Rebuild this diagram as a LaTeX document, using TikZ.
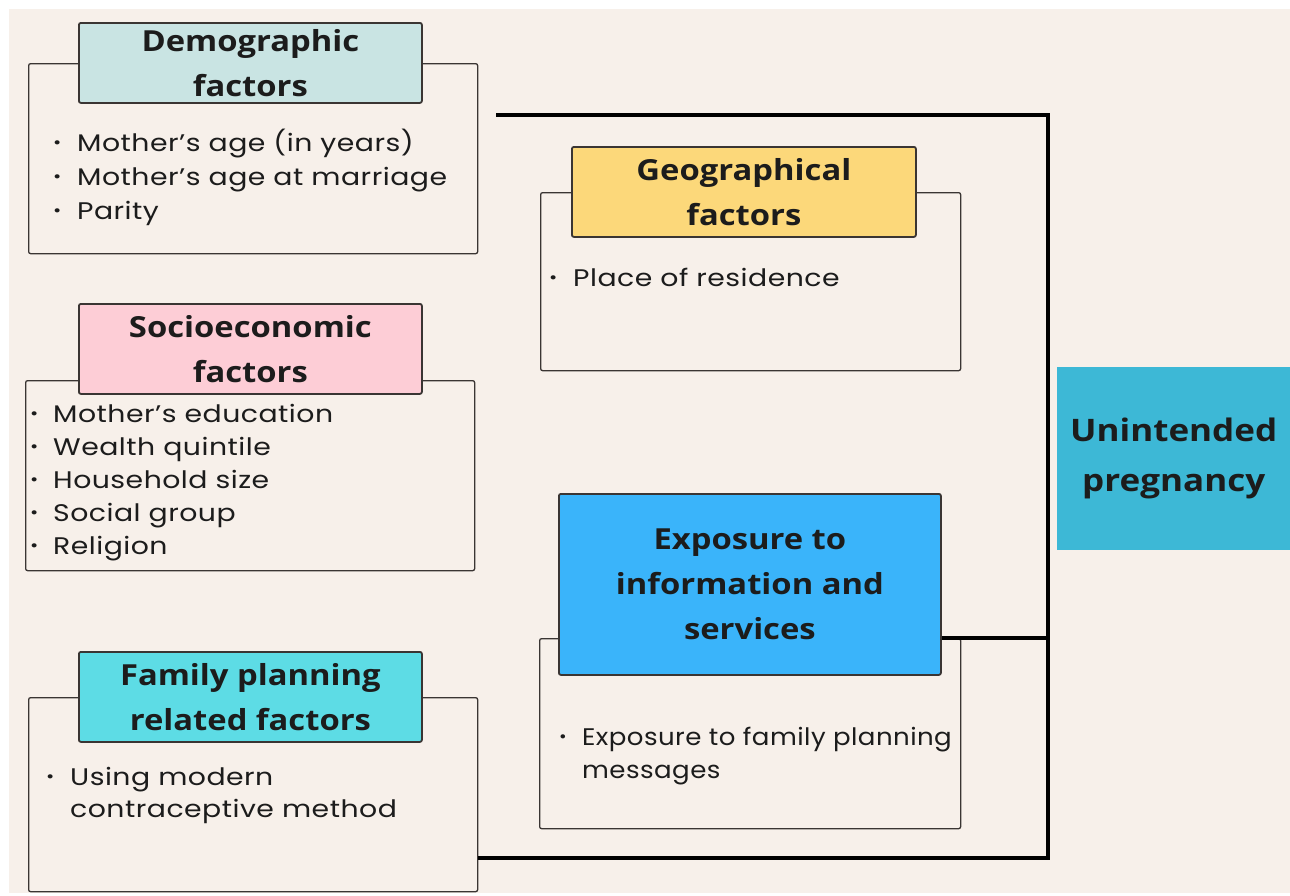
\documentclass[tikz,border=0pt]{standalone}
\usepackage{fontspec}
\setmainfont{Poppins}[FakeStretch=1.18,LetterSpace=2]
\newfontfamily\headfont{Open Sans}[FakeStretch=1.13]
\usepackage{xcolor}
\usepackage{graphicx}
\usetikzlibrary{calc}

\definecolor{paper}{HTML}{F7F0EA}
\definecolor{ink}{HTML}{1C1C1C}
\definecolor{boxline}{HTML}{3A3533}
\definecolor{demofill}{HTML}{C9E4E3}
\definecolor{geofill}{HTML}{FCD87A}
\definecolor{sociofill}{HTML}{FDCDD6}
\definecolor{famfill}{HTML}{5DDCE5}
\definecolor{expfill}{HTML}{3AB4FA}
\definecolor{outfill}{HTML}{3DB8D6}

\newcommand{\dotitem}{\raisebox{3pt}{\fontsize{17}{17}\selectfont\textbullet}}

\begin{document}
\begin{tikzpicture}[x=1pt,y=-1pt,
		box/.style={draw=boxline,line width=1.3pt,rounded corners=2pt,inner sep=0pt,anchor=north west},
		head/.style={draw=boxline,line width=1.8pt,rounded corners=2pt,inner sep=0pt,anchor=north west,align=center,text=ink,
			font=\headfont\bfseries\fontsize{29}{45}\selectfont},
		items/.style={inner sep=0pt,anchor=base west,text=ink,font=\fontsize{24}{34}\selectfont},
		link/.style={line width=3.6pt}]
			\useasboundingbox (0,0) rectangle (1290,895);
			\fill[white] (0,0) rectangle (1290,895);
			\fill[paper] (9,9) rectangle (1290,893);

			\node(demo)[box,minimum width=449pt,minimum height=190pt] at (28,63) {};
			\node(demohead)[head,fill=demofill,minimum width=343pt,minimum height=80pt] at (78,22) {Demographic\\factors};
			\node(demolist)[items] at (53,151)
			{
				\begin{tabular}[t]{@{}p{24pt}@{}l@{}}
					\dotitem & Mother's age (in years) \\
					\dotitem & Mother's age at marriage \\
					\dotitem & Parity \\
				\end{tabular}
			};

			\node(geo)[box,minimum width=420pt,minimum height=178pt] at (540,192) {};
			\node(geohead)[head,fill=geofill,minimum width=344pt,minimum height=90pt] at (571,146) {Geographical\\factors};
			\node(geolist)[items] at (549,286)
			{
				\begin{tabular}[t]{@{}p{24pt}@{}l@{}}
					\dotitem & Place of residence \\
				\end{tabular}
			};

			\node(socio)[box,minimum width=449pt,minimum height=190pt] at (25,380) {};
			\node(sociohead)[head,fill=sociofill,minimum width=343pt,minimum height=90pt] at (78,303) {Socioeconomic\\factors};
			\node(sociolist)[items] at (30,422)
			{
				\begin{tabular}[t]{@{}p{23pt}@{}l@{}}
					\dotitem & Mother's education \\[-1pt]
					\dotitem & Wealth quintile \\[-1pt]
					\dotitem & Household size \\[-1pt]
					\dotitem & Social group \\[-1pt]
					\dotitem & Religion \\
				\end{tabular}
			};

			\node(fam)[box,minimum width=449pt,minimum height=194pt] at (28,697) {};
			\node(famhead)[head,fill=famfill,minimum width=343pt,minimum height=90pt] at (78,651) {Family planning\\related factors};
			\node(famlist)[items] at (46,785)
			{
				\begin{tabular}[t]{@{}p{24pt}@{}l@{}}
					\dotitem & Using modern \\[-2pt]
					 & contraceptive method \\
				\end{tabular}
			};

			\node(exp)[box,minimum width=421pt,minimum height=190pt] at (539,638) {};
			\node(exphead)[head,fill=expfill,minimum width=382pt,minimum height=181pt] at (558,493) {Exposure to\\information and\\services};
			\node(explist)[items] at (559,745)
			{
				\scalebox{0.92}[1]{\begin{tabular}[t]{@{}p{25pt}@{}l@{}}
					\dotitem & Exposure to family planning \\[-1pt]
					 & messages \\
				\end{tabular}}
			};

			\node(outcome)[anchor=north west,fill=outfill,minimum width=233pt,minimum height=183pt,inner sep=0pt,align=center,text=ink,
				font=\headfont\bfseries\fontsize{31}{50}\selectfont] at (1057,367) {Unintended\\pregnancy};

			\coordinate(demotap) at ($(demo.north east)+(18,52)$);
			\coordinate(bustop) at (1048,115);
			\coordinate(busbot) at (1048,858);
			\draw[link] (demotap) -- (bustop) -- (busbot) -- (busbot -| fam.east);
			\draw[link] ($(geo.north east)+(0,86)$) -- ($(geo.north east)+(0,86)$ -| bustop);
			\draw[link] ($(socio.north east)+(0,60)$) -- ($(socio.north east)+(0,60)$ -| bustop);
			\draw[link] (exp.north east -| exphead.east) -- (exp.north east -| bustop);
		\end{tikzpicture}
\end{document}
